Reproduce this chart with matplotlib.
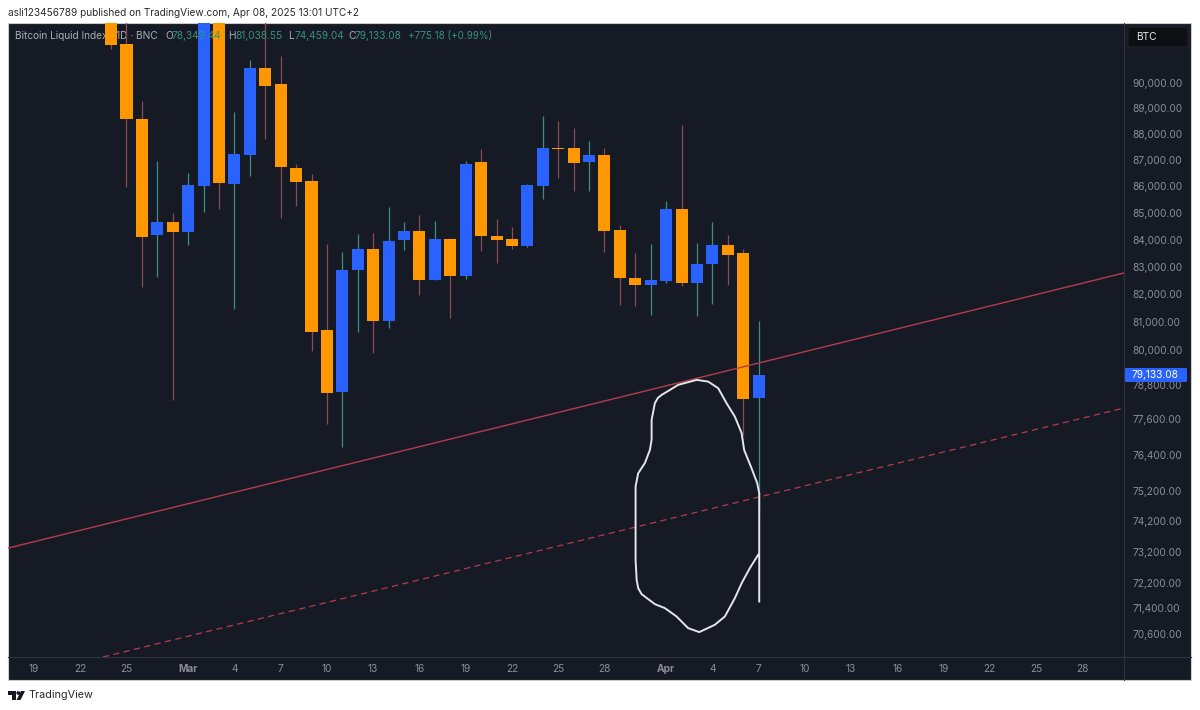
import matplotlib
matplotlib.use("Agg")
import matplotlib.pyplot as plt
from matplotlib.patches import FancyBboxPatch, Polygon, Rectangle, Circle
from matplotlib.ticker import NullLocator

plt.rcParams["font.family"] = ["Inter", "DejaVu Sans"]

# candles, x is days since Feb 19 2025
days = list(range(5, 48))
opens = [95000, 91560, 88584, 84171, 84654, 84282, 86007, 94200, 86083, 87190, 90594, 89960, 86692, 86197, 80720,
         78546, 82883, 83653, 81041, 83986, 84319, 82518, 84023, 82664, 86921, 84134, 84023, 83764, 86007, 87459,
         87459, 86921, 87190, 84356, 82591, 82336, 82482, 85140, 82409, 83102, 83801, 83506, 78349.44]
highs = [96000, 93000, 89289, 86960, 84990, 86501, 95000, 95000, 88857, 90915, 92900, 91075, 86845, 86463, 83838,
         83543, 84208, 84245, 85215, 84654, 84915, 84691, 84060, 86960, 87421, 84766, 84468, 86080, 88701, 88506,
         88233, 87729, 87459, 84542, 83506, 83838, 85441, 88350, 83875, 84654, 84171, 83653, 81038.55]
lows = [91360, 85970, 82264, 82627, 78270, 83801, 85027, 85140, 81470, 86387, 87807, 84803, 85252, 79977, 77446,
        76666, 80650, 79907, 80792, 83617, 81975, 82518, 81148, 82555, 83580, 83139, 83653, 83730, 85516, 86311,
        85818, 85818, 83543, 81614, 81578, 81256, 82409, 82300, 81220, 81650, 82336, 77072, 74459.04]
closes = [91520, 88584, 84097, 84654, 84282, 86045, 94200, 86121, 87228, 90594, 89881, 86730, 86159, 80650, 78511,
          82883, 83653, 81041, 83949, 84319, 82518, 84023, 82664, 86845, 84134, 83986, 83764, 86045, 87459, 87421,
          86883, 87190, 84319, 82591, 82336, 82518, 85140, 82409, 83102, 83801, 83433, 78304, 79133.08]

# trend lines
solid_days = [-1.686, 70.7]
solid_prices = [73320, 82773]
dashed_days = [4.47, 70.7]
dashed_prices = [69885, 77991]

# hand drawn circle
blob_days = [46.97, 46.43, 45.90, 45.46, 44.81, 44.16, 43.15, 42.43, 41.68, 40.92, 40.27, 39.41, 39.19, 39.09, 39.02,
             39.02, 39.19, 39.62, 39.95, 40.06, 40.06, 40.27, 40.47, 40.71, 41.25, 41.78, 42.98, 43.73, 44.38, 44.92,
             45.46, 45.90, 46.06, 46.54, 46.91, 47.04, 47.04]
blob_prices = [73103, 72676, 72196, 71722, 71143, 70884, 70656, 70780, 71143, 71407, 71532, 71848, 72038, 72302, 72942,
               75336, 75782, 76117, 76564, 76902, 77583, 78156, 78339, 78442, 78615, 78789, 78962, 78903, 78674, 78156,
               77695, 77130, 76564, 75950, 75449, 75117, 71614]

price_ticks = [90000, 89000, 88000, 87000, 86000, 85000, 84000, 83000, 82000, 81000, 80000, 78800, 77600, 76400,
               75200, 74200, 73200, 72200, 71400, 70600]
date_ticks = [0, 3, 6, 10, 13, 16, 19, 22, 25, 28, 31, 34, 37, 41, 44, 47, 50, 53, 56, 59, 62, 65, 68]
date_labels = ["19", "22", "25", "Mar", "4", "7", "10", "13", "16", "19", "22", "25", "28", "Apr", "4", "7", "10",
               "13", "16", "19", "22", "25", "28"]

BG = "#161a25"
ORANGE = "#ff9800"
BLUE = "#2962ff"
WICK_DOWN = "#8c4a54"
WICK_UP = "#3d8c88"
TREND = "#b53c4b"
GREY = "#8b8e97"
TEAL = "#37917f"
FS = 7.3

fig = plt.figure(figsize=(12, 7.1), dpi=100, facecolor="white")

# page furniture, in pixels
chrome = fig.add_axes([0, 0, 1, 1], zorder=0)
chrome.set_xlim(0, 1200)
chrome.set_ylim(710, 0)
chrome.axis("off")
chrome.add_patch(Rectangle((8, 23), 1183, 657, fc=BG, ec="#c9cbd0", lw=0.8))
chrome.plot([8, 1191], [657, 657], color="#2e323d", lw=0.8)
chrome.plot([1124, 1124], [23, 680], color="#2e323d", lw=0.8)
chrome.text(8, 13, "asli123456789 published on TradingView.com, Apr 08, 2025 13:01 UTC+2", fontsize=7.25,
            color="#2a2a2e", va="center")
chrome.add_patch(FancyBboxPatch((1128, 27), 60, 20, boxstyle="round,pad=0,rounding_size=2.5", fc="#0e0f12",
                                ec="#24272f", lw=0.6))
chrome.text(1136, 37, "BTC", fontsize=7.3, color="#e6e7ea", va="center")
# logo
chrome.add_patch(Polygon([(8, 691), (16, 691), (16, 700), (12, 700), (12, 695), (8, 695)], fc="#131722", ec="none"))
chrome.add_patch(Circle((18.3, 693), 1.9, fc="#131722", ec="none"))
chrome.add_patch(Polygon([(21, 691), (25, 691), (20.5, 700), (16.5, 700)], fc="#131722", ec="none"))
chrome.text(28.5, 695.5, "TradingView", fontsize=7.8, color="#2a2a2e", va="center")

# price chart
ax = fig.add_axes([8 / 1200, (710 - 657) / 710, 1116 / 1200, 634 / 710], zorder=1)
ax.patch.set_alpha(0)
ax.set_yscale("log")
ax.set_xlim(-1.686, 70.7)
ax.set_ylim(69885, 92412)
for spine in ax.spines.values():
    spine.set_visible(False)

ax.text(15, 36, "Bitcoin Liquid Index · 1D · BNC", transform=chrome.transData, fontsize=FS, color="#a9acb5",
        va="center", zorder=1)

for d, o, h, l, c in zip(days, opens, highs, lows, closes):
    up = c >= o
    ax.vlines(d, l, h, color=WICK_UP if up else WICK_DOWN, lw=0.9, zorder=2)
    ax.bar(d, abs(c - o), bottom=min(o, c), width=0.78, color=BLUE if up else ORANGE, zorder=3)

ax.plot(solid_days, solid_prices, color=TREND, lw=1.0, zorder=4)
ax.plot(dashed_days, dashed_prices, color=TREND, lw=0.9, ls=(0, (5, 3.5)), zorder=4)
ax.plot(blob_days, blob_prices, color="#e4e5e8", lw=1.4, zorder=5, solid_joinstyle="round")

ax.yaxis.tick_right()
ax.set_yticks(price_ticks, labels=[f"{p:,.2f}" for p in price_ticks])
ax.yaxis.set_minor_locator(NullLocator())
ax.tick_params(axis="y", which="both", length=0, pad=5.8, labelsize=FS, labelcolor=GREY)
ax.set_xticks(date_ticks, labels=date_labels)
ax.tick_params(axis="x", length=0, pad=5.2, labelsize=FS, labelcolor=GREY)
for label in ax.get_xticklabels():
    if label.get_text() in ("Mar", "Apr"):
        label.set_fontweight("bold")

# legend values sit over the candles
legend_items = [
    (165, "O", 172, "78,349.44"),
    (228, "H", 235, "81,038.55"),
    (288, "L", 295, "74,459.04"),
    (348, "C", 355, "79,133.08"),
]
for px, letter, vx, value in legend_items:
    ax.text(px, 36, letter, transform=chrome.transData, fontsize=FS, color="#a9acb5", va="center", zorder=6)
    ax.text(vx, 36, value, transform=chrome.transData, fontsize=FS, color=TEAL, va="center", zorder=6)
ax.text(408, 36, "+775.18 (+0.99%)", transform=chrome.transData, fontsize=7.1, color=TEAL, va="center", zorder=6)

# last price tag, sits over the 78,800 label
tag_y = 710 - ax.transData.transform((0, closes[-1]))[1]
ax.add_patch(FancyBboxPatch((1125, tag_y - 7), 62, 14, boxstyle="round,pad=0,rounding_size=1.5", fc=BLUE, ec="none",
                            transform=chrome.transData, clip_on=False, zorder=7))
ax.text(1132, tag_y, f"{closes[-1]:,.2f}", transform=chrome.transData, fontsize=FS, color="white", va="center",
        clip_on=False, zorder=8)

fig.savefig("out.png", dpi=100, facecolor="white")
